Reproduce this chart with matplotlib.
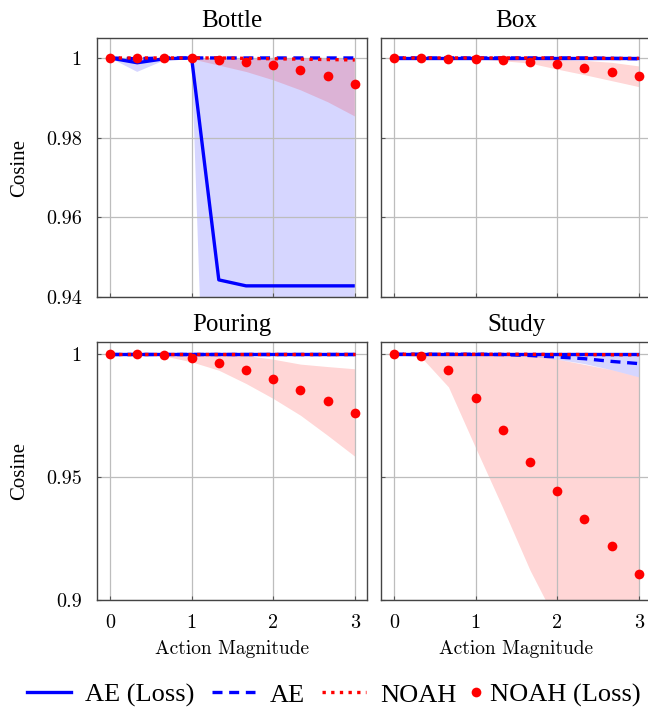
import numpy as np
import matplotlib
matplotlib.use("Agg")
import matplotlib.pyplot as plt
from matplotlib.lines import Line2D

# action magnitudes
x_vals = [0, 0.333, 0.667, 1, 1.333, 1.667, 2, 2.333, 2.667, 3]

# Bottle
bottle_ae_loss = [1.0, 0.9988, 0.9998, 1.0, 0.9443, 0.9428, 0.9428, 0.9428, 0.9428, 0.9428]
bottle_ae_loss_std = [0.0, 0.0023, 0.0004, 0.0, 0.144, 0.12, 0.11, 0.10, 0.10, 0.10]
bottle_ae = [1.0, 0.9998, 1.0, 1.0, 1.0, 1.0, 1.0, 1.0, 1.0, 1.0]
bottle_ae_std = [0, 0, 0, 0, 0, 0, 0, 0, 0, 0]
bottle_noah = [1.0, 1.0, 1.0, 1.0, 1.0, 0.9999, 0.9998, 0.9997, 0.9996, 0.9995]
bottle_noah_std = [0, 0, 0, 0, 0, 0, 0, 0, 0, 0]
bottle_noah_loss = [1.0, 1.0, 1.0, 1.0, 0.9995, 0.9990, 0.9982, 0.9970, 0.9955, 0.9935]
bottle_noah_loss_std = [0.0, 0.0, 0.0, 0.0002, 0.0013, 0.0024, 0.0037, 0.0050, 0.0065, 0.0081]

# Box
box_ae_loss = [1.0, 1.0, 1.0, 1.0, 1.0, 1.0, 1.0, 1.0, 1.0, 1.0]
box_ae_loss_std = [0, 0, 0, 0, 0, 0, 0, 0, 0, 0]
box_ae = [1.0, 1.0, 1.0, 1.0, 1.0, 1.0, 1.0, 1.0, 0.9999, 0.9998]
box_ae_std = [0, 0, 0, 0, 0, 0, 0, 0, 0.0001, 0.0002]
box_noah = [1.0, 1.0, 1.0, 1.0, 1.0, 1.0, 1.0, 1.0, 0.9999, 0.9999]
box_noah_std = [0, 0, 0, 0, 0, 0, 0, 0, 0, 0]
box_noah_loss = [1.0, 1.0, 0.9998, 0.9998, 0.9995, 0.9991, 0.9984, 0.9976, 0.9966, 0.9954]
box_noah_loss_std = [0.0, 0.0, 0.0, 0.0, 0.0002, 0.0004, 0.0012, 0.0018, 0.0023, 0.0026]

# Pouring
pour_ae_loss = [1.0, 1.0, 1.0, 1.0, 1.0, 1.0, 1.0, 1.0, 1.0, 1.0]
pour_ae_loss_std = [0, 0, 0, 0, 0, 0, 0, 0, 0, 0]
pour_ae = [1.0, 1.0, 1.0, 1.0, 1.0, 1.0, 1.0, 1.0, 1.0, 1.0]
pour_ae_std = [0, 0, 0, 0, 0, 0, 0, 0, 0, 0]
pour_noah = [1.0, 1.0, 1.0, 1.0, 1.0, 1.0, 1.0, 1.0, 1.0, 1.0]
pour_noah_std = [0, 0, 0, 0, 0, 0, 0, 0, 0, 0]
pour_noah_loss = [1.0, 1.0, 0.9996, 0.9985, 0.9966, 0.9938, 0.9900, 0.9856, 0.9810, 0.9763]
pour_noah_loss_std = [0.0, 0.0, 0.0003, 0.0016, 0.0031, 0.0057, 0.0080, 0.0104, 0.0140, 0.0178]

# Study
study_ae_loss = [1.0, 1.0, 1.0, 1.0, 1.0, 1.0, 1.0, 1.0, 1.0, 1.0]
study_ae_loss_std = [0, 0, 0, 0, 0, 0, 0, 0, 0, 0]
study_ae = [1.0, 1.0, 1.0, 1.0, 0.9999, 0.9995, 0.9989, 0.9982, 0.9971, 0.9962]
study_ae_std = [0.0, 0.0, 0.0, 0.0, 0.0001, 0.0003, 0.0009, 0.0020, 0.0034, 0.0054]
study_noah = [1.0, 1.0, 1.0, 1.0, 1.0, 1.0, 0.9999, 0.9999, 0.9998, 0.9998]
study_noah_std = [0, 0, 0, 0, 0, 0, 0, 0, 0, 0]
study_noah_loss = [1.0, 0.9993, 0.9936, 0.9824, 0.9690, 0.9561, 0.9443, 0.9329, 0.9218, 0.9107]
study_noah_loss_std = [0.0, 0.0005, 0.0069, 0.0205, 0.0315, 0.0440, 0.0537, 0.0630, 0.0719, 0.0801]

titles = ["Bottle", "Box", "Pouring", "Study"]
x_ticks = [0, 1, 2, 3]
top_yticks = [0.94, 0.96, 0.98, 1.0]
top_ylabels = ["0.94", "0.96", "0.98", "1"]
bot_yticks = [0.9, 0.95, 1.0]
bot_ylabels = ["0.9", "0.95", "1"]

panels = [
    (bottle_ae_loss, bottle_ae_loss_std, bottle_ae, bottle_ae_std,
     bottle_noah, bottle_noah_std, bottle_noah_loss, bottle_noah_loss_std),
    (box_ae_loss, box_ae_loss_std, box_ae, box_ae_std,
     box_noah, box_noah_std, box_noah_loss, box_noah_loss_std),
    (pour_ae_loss, pour_ae_loss_std, pour_ae, pour_ae_std,
     pour_noah, pour_noah_std, pour_noah_loss, pour_noah_loss_std),
    (study_ae_loss, study_ae_loss_std, study_ae, study_ae_std,
     study_noah, study_noah_std, study_noah_loss, study_noah_loss_std),
]

serif = "Liberation Serif"
cm = "cmr10"
blue = "#0000ff"
red = "#ff0000"
dash = (3, 2.0)
dot = (1, 1.6)

fig = plt.figure(figsize=(6.48, 7.15), dpi=100)
positions = [
    [0.1497, 0.5846, 0.4167, 0.3622],
    [0.5880, 0.5846, 0.4167, 0.3622],
    [0.1497, 0.1608, 0.4167, 0.3609],
    [0.5880, 0.1608, 0.4167, 0.3609],
]


def band(ax, mean, std, color):
    m = np.array(mean)
    s = np.array(std)
    hi = np.minimum(m + s, 1.0)
    lo = m - s
    ax.fill_between(x_vals, lo, hi, color=color, alpha=0.16, linewidth=0, zorder=1)


for i, (pos, data, title) in enumerate(zip(positions, panels, titles)):
    ax = fig.add_axes(pos)
    ae_l, ae_l_s, ae, ae_s, no, no_s, no_l, no_l_s = data
    band(ax, ae_l, ae_l_s, blue)
    band(ax, ae, ae_s, blue)
    band(ax, no, no_s, red)
    band(ax, no_l, no_l_s, red)
    ax.plot(x_vals, ae_l, color=blue, lw=2.4, solid_capstyle="butt", zorder=3)
    ax.plot(x_vals, ae, color=blue, lw=2.4, dashes=dash, zorder=4)
    ax.plot(x_vals, no, color=red, lw=2.4, dashes=dot, zorder=5)
    ax.plot(x_vals, no_l, "o", color=red, ms=7, mec="none", zorder=6)

    ax.set_xlim(-0.16, 3.15)
    ax.set_xticks(x_ticks)
    if i < 2:
        ax.set_ylim(0.94, 1.005)
        ax.set_yticks(top_yticks)
        ax.set_yticklabels(top_ylabels if i % 2 == 0 else [])
        ax.set_xticklabels([])
    else:
        ax.set_ylim(0.9, 1.005)
        ax.set_yticks(bot_yticks)
        ax.set_yticklabels(bot_ylabels if i % 2 == 0 else [])
        ax.set_xticklabels([str(t) for t in x_ticks])
        ax.set_xlabel("Action Magnitude", family=cm, fontsize=14, labelpad=6)
    if i % 2 == 0:
        ax.set_ylabel("Cosine", family=serif, fontsize=15, labelpad=12)

    ax.set_axisbelow("line")
    ax.grid(True, color="#bdbdbd", lw=0.9)
    ax.tick_params(direction="in", length=3, width=0.8, color="#555555",
                   labelsize=14.5)
    ax.tick_params(axis="x", pad=10)
    ax.tick_params(axis="y", pad=11)
    for lab in ax.get_xticklabels() + ax.get_yticklabels():
        lab.set_family(cm)
    for sp in ax.spines.values():
        sp.set_color("#444444")
        sp.set_linewidth(1.0)
    ax.set_title(title, family=serif, fontsize=18, pad=8)

# legend: three line entries, then the dot entry with a short handle
line_handles = [
    Line2D([], [], color=blue, lw=2.4),
    Line2D([], [], color=blue, lw=2.4, dashes=dash),
    Line2D([], [], color=red, lw=2.4, dashes=dot),
]
line_labels = ["AE (Loss)", "AE", "NOAH"]
fig.legend(line_handles, line_labels, loc="center left",
           bbox_to_anchor=(0.042, 0.028), ncol=3, frameon=False,
           prop={"family": serif, "size": 19}, borderpad=0,
           borderaxespad=0, handlelength=1.65, handletextpad=0.55,
           columnspacing=0.65)
dot_handle = [Line2D([], [], color=red, marker="o", ms=7, mec="none", ls="none")]
fig.legend(dot_handle, ["NOAH (Loss)"], loc="center left",
           bbox_to_anchor=(0.724, 0.028), frameon=False,
           prop={"family": serif, "size": 19}, borderpad=0, borderaxespad=0,
           handlelength=0.5, handletextpad=0.3)

fig.savefig("out.png", dpi=100)
